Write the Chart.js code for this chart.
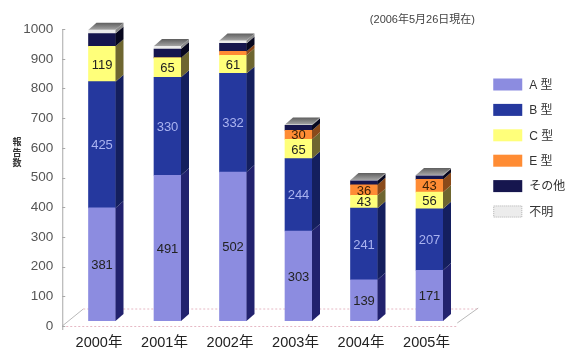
<!DOCTYPE html>
<html>
<head>
<meta charset="utf-8">
<script src="https://cdn.jsdelivr.net/npm/chart.js@4/dist/chart.umd.min.js"></script>
<style>
  html, body { margin: 0; padding: 0; background: #fff; overflow: hidden; }
  #wrap { position: relative; width: 567px; height: 348px; }
</style>
</head>
<body>
<div id="wrap"><canvas id="c" width="567" height="348"></canvas></div>
<script>
// Reported cases per year, by hepatitis virus type
const years    = ['2000年', '2001年', '2002年', '2003年', '2004年', '2005年'];
const typeA    = [381, 491, 502, 303, 139, 171];
const typeB    = [425, 330, 332, 244, 241, 207];
const typeC    = [119, 65, 61, 65, 43, 56];
const typeE    = [0, 0, 13, 30, 36, 43];
const typeOther   = [43, 30, 27, 17, 13, 12];
const typeUnknown = [13, 10, 10, 3, 3, 3];
const seriesNames = ['A 型', 'B 型', 'C 型', 'E 型', 'その他', '不明'];
const yTickStep = 100;
const yMax = 1000;
const asOfNote = '(2006年5月26日現在)';
const axisTitle = ['報', '告', '数'];

// Face colours: front, side (shaded), value label colour
const frontColors = ['#8c8ce0', '#25389e', '#ffff7a', '#ff8c34', '#16164e', '#ececec'];
const sideColors  = ['#22226e', '#141f5e', '#6e6630', '#8a4a1a', '#07071e', '#8a8a8a'];
const labelColors = ['#222', '#aab3f0', '#222', '#3a2208', null, null];

const seriesValues = [typeA, typeB, typeC, typeE, typeOther, typeUnknown];
const DEPTH_X = 8, DEPTH_Y = 7;
const FONT = "'Liberation Sans', 'Noto Sans CJK JP', Arial, sans-serif";
const CJK_FONT = "'Noto Sans CJK JP', sans-serif";

const depthPlugin = {
  id: 'depth',
  beforeDatasetsDraw(chart) {
    const ctx = chart.ctx;
    const y = chart.scales.y;
    const area = chart.chartArea;
    const axisX = area.left - 7;
    const front = y.getPixelForValue(0) + 5;
    const floorRight = area.right - 5;
    ctx.save();
    // floor outline
    ctx.lineWidth = 1;
    ctx.strokeStyle = '#b9b9b9';
    ctx.beginPath();
    ctx.moveTo(axisX, front); ctx.lineTo(axisX + 21, front - 17);
    ctx.moveTo(floorRight, front - 3); ctx.lineTo(floorRight + 21, front - 18);
    ctx.stroke();
    ctx.strokeStyle = '#e6b8c4';
    ctx.setLineDash([2, 2]);
    ctx.beginPath();
    ctx.moveTo(axisX + 21, front - 17); ctx.lineTo(floorRight + 21, front - 17);
    ctx.moveTo(axisX, front + 0.5); ctx.lineTo(floorRight, front + 0.5);
    ctx.stroke();
    ctx.setLineDash([]);
    // value axis with tick marks
    ctx.strokeStyle = '#a8a8a8';
    ctx.beginPath();
    ctx.moveTo(axisX + 0.5, y.getPixelForValue(yMax) + 5);
    ctx.lineTo(axisX + 0.5, front + 4);
    for (let v = 0; v <= yMax; v += yTickStep) {
      const py = Math.round(y.getPixelForValue(v) + 5) + 0.5;
      ctx.moveTo(axisX, py); ctx.lineTo(axisX + 3, py);
    }
    ctx.stroke();
    ctx.restore();
  },
  afterDatasetsDraw(chart) {
    const ctx = chart.ctx;
    ctx.save();
    const tops = [];
    chart.data.datasets.forEach((ds, i) => {
      const meta = chart.getDatasetMeta(i);
      meta.data.forEach((bar, j) => {
        const p = bar.getProps(['x', 'y', 'base', 'width'], true);
        if (Math.abs(p.base - p.y) < 0.05) return;
        const r = p.x + p.width / 2;
        ctx.fillStyle = sideColors[i];
        ctx.beginPath();
        ctx.moveTo(r, p.y);
        ctx.lineTo(r + DEPTH_X, p.y - DEPTH_Y);
        ctx.lineTo(r + DEPTH_X, p.base - DEPTH_Y);
        ctx.lineTo(r, p.base);
        ctx.closePath();
        ctx.fill();
        if (tops[j] === undefined || p.y < tops[j].y) tops[j] = p;
      });
    });
    // top caps
    tops.forEach(p => {
      const l = p.x - p.width / 2, r = p.x + p.width / 2;
      const g = ctx.createLinearGradient(0, p.y - DEPTH_Y, 0, p.y);
      g.addColorStop(0, '#5e5e5e');
      g.addColorStop(1, '#a4a4a4');
      ctx.fillStyle = g;
      ctx.beginPath();
      ctx.moveTo(l, p.y);
      ctx.lineTo(l + DEPTH_X, p.y - DEPTH_Y);
      ctx.lineTo(r + DEPTH_X, p.y - DEPTH_Y);
      ctx.lineTo(r, p.y);
      ctx.closePath();
      ctx.fill();
    });
    // value labels
    ctx.font = '13px ' + FONT;
    ctx.textAlign = 'center';
    ctx.textBaseline = 'middle';
    chart.data.datasets.forEach((ds, i) => {
      if (!labelColors[i]) return;
      const meta = chart.getDatasetMeta(i);
      meta.data.forEach((bar, j) => {
        const v = ds.data[j];
        if (v < 20) return;
        const p = bar.getProps(['x', 'y', 'base'], true);
        ctx.fillStyle = labelColors[i];
        ctx.fillText(String(v), p.x, (p.y + p.base) / 2 + 1);
      });
    });
    ctx.restore();
  },
  afterDraw(chart) {
    const ctx = chart.ctx;
    ctx.save();
    // legend
    const lx = chart.chartArea.right + 31;
    chart.data.datasets.forEach((ds, i) => {
      const cy = 84.5 + i * 25.4;
      ctx.fillStyle = frontColors[i];
      ctx.fillRect(lx, cy - 6, 29, 12);
      if (i === 5) {
        ctx.strokeStyle = '#bdbdbd';
        ctx.setLineDash([1, 1]);
        ctx.strokeRect(lx + 0.5, cy - 5.5, 28, 11);
        ctx.setLineDash([]);
      }
      ctx.fillStyle = '#333';
      ctx.font = '12px ' + FONT;
      ctx.textAlign = 'left';
      ctx.textBaseline = 'middle';
      ctx.fillText(ds.label, lx + 36, cy + 1);
    });
    // note at top right
    ctx.fillStyle = '#444';
    ctx.font = '11px ' + FONT;
    ctx.textAlign = 'right';
    ctx.textBaseline = 'middle';
    ctx.fillText(asOfNote, 475, 20);
    // vertical axis title, one character per line
    ctx.font = 'bold 9px ' + CJK_FONT;
    ctx.textAlign = 'center';
    ctx.textBaseline = 'middle';
    ctx.fillStyle = '#333';
    axisTitle.forEach((ch, k) => ctx.fillText(ch, 17, 142 + k * 10.5));
    ctx.restore();
  }
};

new Chart(document.getElementById('c'), {
  type: 'bar',
  data: {
    labels: years,
    datasets: seriesValues.map((vals, i) => ({
      label: seriesNames[i],
      data: vals,
      backgroundColor: frontColors[i],
      borderWidth: 0,
      barThickness: 27
    }))
  },
  options: {
    responsive: false,
    animation: false,
    devicePixelRatio: 1,
    layout: { padding: { left: 0, right: 104.75, top: 22, bottom: 0 } },
    plugins: { legend: { display: false }, tooltip: { enabled: false } },
    scales: {
      x: {
        stacked: true,
        grid: { display: false, drawTicks: false },
        border: { display: false },
        ticks: { color: '#222', font: { size: 14.5, family: FONT }, padding: 13, labelOffset: -3, maxRotation: 0 },
        afterFit(s) { s.height = 27; }
      },
      y: {
        stacked: true,
        min: 0,
        max: yMax,
        grid: { display: false, drawTicks: false },
        border: { display: false },
        ticks: {
          stepSize: yTickStep,
          color: '#555',
          font: { size: 13.5, family: FONT },
          padding: 16,
          labelOffset: 5,
          callback: v => String(v)
        },
        afterFit(s) { s.width = 69.25; }
      }
    }
  },
  plugins: [depthPlugin]
});
</script>
</body>
</html>
